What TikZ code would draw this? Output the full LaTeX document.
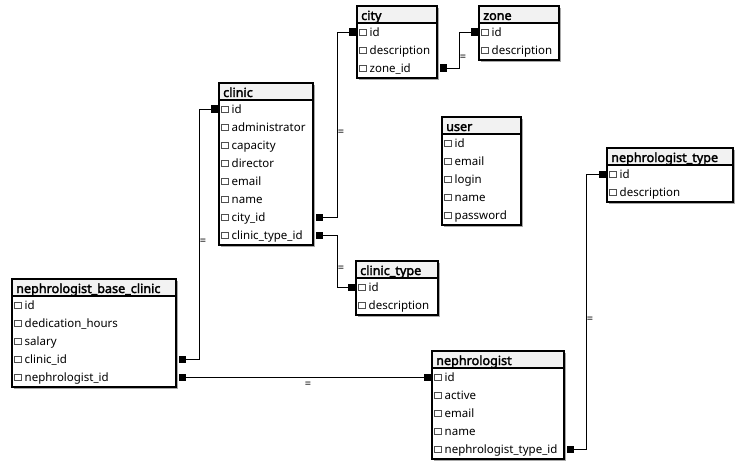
\documentclass[tikz,border=0pt]{standalone}
\usepackage{fontspec}
\setmainfont{Noto Sans}
\newfontfamily\hdfont{Noto Sans}[FakeBold=2.4]
\usetikzlibrary{arrows.meta,calc}
\definecolor{headc}{HTML}{F2F2F2}
\definecolor{shadc}{HTML}{A8A8A8}
\definecolor{chkc}{HTML}{505050}
\tikzset{
  tblframe/.style={draw=black, line width=1.1pt, inner sep=0pt, outer sep=0pt},
  rowspan/.style={inner sep=0pt, outer sep=0pt, minimum height=18pt},
  chk/.style={draw=chkc, line width=0.6pt, fill=white, minimum size=6.5pt, inner sep=0pt},
  rowtext/.style={anchor=base west, inner sep=0pt, font=\fontsize{11.5}{13}\selectfont},
  headtext/.style={anchor=base west, inner sep=0pt, font=\hdfont\fontsize{12.6}{14}\selectfont},
  conn/.style={line width=0.9pt, {Square[length=7pt 0,width=7pt 0]}-{Square[length=8pt 0,width=7pt 0]}, shorten <=3pt},
  eq/.style={font=\fontsize{11}{11}\selectfont, inner sep=0pt, xshift=4pt, yshift=-8pt}
}
% name, left, top, width, nrows, title, rows
\newcommand\ertable[7]{%
  \pgfmathsetmacro\tblH{18+18*#5}%
  \fill[shadc] (#2+2,#3+2) rectangle (#2+#4+2,#3+\tblH+2);
  \fill[white] (#2,#3) rectangle (#2+#4,#3+\tblH);
  \fill[headc] (#2,#3) rectangle (#2+#4,#3+17);
  \node[tblframe, minimum width=#4pt, minimum height=\tblH pt, anchor=north west] (#1) at (#2,#3) {};
  \draw[line width=1.1pt] ($(#1.north west)+(0,17)$) -- ($(#1.north east)+(0,17)$);
  \node[headtext] (#1-title) at (#2+4,#3+14) {#6};
  \foreach \t [count=\i] in {#7} {
    \pgfmathsetmacro\ry{#3+17+9+18*(\i-1)}
    \node[rowspan, minimum width=#4pt] (#1-\i) at (#2+#4/2,\ry) {};
    \node[chk] (#1-\i-c) at (#2+6,\ry+0.3) {};
    \node[rowtext] (#1-\i-t) at (#2+12.5,\ry+4.4) {\t};
  }
}
\begin{document}
\begin{tikzpicture}[x=1pt,y=-1pt]
\useasboundingbox (0,0) rectangle (743,468);
\ertable{city}{357}{6}{80}{3}{city}{id,description,zone\_id}
\ertable{zone}{479}{6}{80}{2}{zone}{id,description}
\ertable{clinic}{219}{83}{94}{8}{clinic}{id,administrator,capacity,director,email,name,city\_id,clinic\_type\_id}
\ertable{user}{442}{117}{79}{5}{user}{id,email,login,name,password}
\ertable{ntype}{607}{148}{126}{2}{nephrologist\_type}{id,description}
\ertable{ctype}{356}{261}{82}{2}{clinic\_type}{id,description}
\ertable{nbc}{12}{279}{164}{5}{nephrologist\_base\_clinic}{id,dedication\_hours,salary,clinic\_id,nephrologist\_id}
\ertable{neph}{432}{351}{132}{5}{nephrologist}{id,active,email,name,nephrologist\_type\_id}

\draw[conn] (clinic-7.east) -- ++(24,0) |- node[eq, pos=0.25]{=} (city-1.west);
\draw[conn] (city-3.east) -- ++(22,0) |- node[eq, pos=0.25]{=} (zone-1.west);
\draw[conn] (clinic-8.east) -- ++(24,0) |- node[eq, pos=0.25]{=} (ctype-1.west);
\draw[conn] (nbc-4.east) -- ++(23,0) |- node[eq, pos=0.25]{=} (clinic-1.west);
\draw[conn] (nbc-5.east) -- node[eq, pos=0.5]{=} (neph-1.west);
\draw[conn] (neph-5.east) -- ++(22,0) |- node[eq, pos=0.25]{=} (ntype-1.west);
\end{tikzpicture}
\end{document}
